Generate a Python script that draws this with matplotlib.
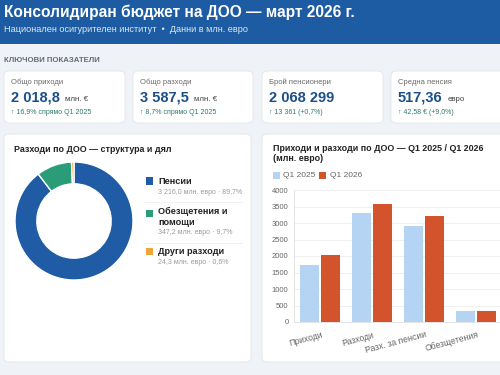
import matplotlib
matplotlib.use("Agg")
import matplotlib.pyplot as plt
from matplotlib.patches import FancyBboxPatch, Rectangle
import numpy as np

plt.rcParams['font.family'] = ['Liberation Sans', 'DejaVu Sans']

# ---- data ----
title = "Консолидиран бюджет на ДОО — март 2026 г."
subtitle = "Национален осигурителен институт  •  Данни в млн. евро"

kpi_labels = ["Общо приходи", "Общо разходи", "Брой пенсионери", "Средна пенсия"]
kpi_values = ["2 018,8", "3 587,5", "2 068 299", "517,36"]
kpi_units = ["млн. €", "млн. €", "", "евро"]
kpi_deltas = ["↑ 16,9% спрямо Q1 2025", "↑ 8,7% спрямо Q1 2025",
              "↑ 13 361 (+0,7%)", "↑ 42,58 € (+9,0%)"]

pie_labels = ["Пенсии", "Обезщетения и\nпомощи", "Други разходи"]
pie_values = [3216.0, 347.2, 24.3]
pie_notes = ["3 216,0 млн. евро · 89,7%", "347,2 млн. евро · 9,7%", "24,3 млн. евро · 0,6%"]
pie_colors = ["#1f5ca5", "#2a9d78", "#f0a53a"]

bar_cats = ["Приходи", "Разходи", "Разх. за пенсии", "Обезщетения"]
q1_2025 = [1727, 3300, 2910, 325]
q1_2026 = [2018.8, 3587.5, 3216.0, 347.2]
c2025 = "#b5d3f2"
c2026 = "#d3532c"

W, H = 500, 375
fig = plt.figure(figsize=(5, 3.75), dpi=100)
fig.patch.set_facecolor("#eff2f6")
renderer = fig.canvas.get_renderer()


def fx(x):
    return x / W


def fy(y):
    return 1 - y / H


def card(x0, y0, x1, y1):
    p = FancyBboxPatch((fx(x0), fy(y1)), fx(x1 - x0), (y1 - y0) / H,
                       boxstyle="round,pad=0,rounding_size=0.012",
                       transform=fig.transFigure, facecolor="white",
                       edgecolor="#e2e6eb", linewidth=0.6, zorder=0)
    fig.patches.append(p)


def txt(x, y, s, **kw):
    return fig.text(fx(x), fy(y), s, **kw)


def square(x, y, c):
    fig.patches.append(Rectangle((fx(x), fy(y + 7)), 7 / W, 7 / H,
                                 transform=fig.transFigure, facecolor=c,
                                 edgecolor="none", zorder=1))


# header
fig.patches.append(Rectangle((0, fy(44)), 1, 44 / H, transform=fig.transFigure,
                             facecolor="#1d5ca2", edgecolor="none", zorder=0))
txt(4, 12.5, title, color="white", fontsize=11.2, fontweight="bold", va="center")
txt(4, 29.5, subtitle, color="#dce8f5", fontsize=6.6, va="center")

txt(4, 60, "КЛЮЧОВИ ПОКАЗАТЕЛИ", color="#646b73", fontsize=5.6, fontweight="bold", va="center")

# KPI cards
card_x = [(4, 125), (133, 253), (262, 383), (391, 512)]
for i, (x0, x1) in enumerate(card_x):
    card(x0, 71, x1, 123)
    txt(x0 + 7, 82, kpi_labels[i], color="#6b6b6b", fontsize=5.5, va="center")
    v = txt(x0 + 7, 98, kpi_values[i], color="#1b4f8c", fontsize=10.5, fontweight="bold", va="center")
    if kpi_units[i]:
        bb = v.get_window_extent(renderer)
        txt(bb.x1 + 5, 99.5, kpi_units[i], color="#444444", fontsize=5.7, va="center")
    txt(x0 + 7, 112, kpi_deltas[i], color="#2e7a68", fontsize=5, va="center")

# bottom cards
card(4, 134, 251, 362)
card(262, 134, 512, 362)

# donut
txt(14, 149, "Разходи по ДОО — структура и дял", color="#222222", fontsize=6.4, fontweight="bold", va="center")
cx, cy, r = 74, 221, 59
ax_p = fig.add_axes([fx(cx - r), fy(cy + r), 2 * r / W, 2 * r / H])
ax_p.set_zorder(2)
ax_p.pie(pie_values, colors=pie_colors, startangle=90, counterclock=False, radius=1,
         wedgeprops=dict(width=0.37, edgecolor="white", linewidth=1.0))
ax_p.set_xlim(-1, 1)
ax_p.set_ylim(-1, 1)
ax_p.set_aspect("auto")
ax_p.axis("off")

leg_y = [181, 207, 251]
note_y = [192, 232, 262]
for i in range(3):
    square(146, leg_y[i] - 3.5 if i != 1 else 213 - 3.5, pie_colors[i])
    txt(158, leg_y[i], pie_labels[i], color="#222222", fontsize=6.6, fontweight="bold",
        va="top" if "\n" in pie_labels[i] else "center", linespacing=1.3)
    txt(158, note_y[i], pie_notes[i], color="#9a9a9a", fontsize=5, va="center")
for y in (202, 243):
    fig.add_artist(plt.Line2D([fx(145), fx(242)], [fy(y), fy(y)], color="#eeeeee", lw=0.6))

# bar chart
txt(273, 153.5, "Приходи и разходи по ДОО — Q1 2025 / Q1 2026\n(млн. евро)", color="#222222",
    fontsize=6.4, fontweight="bold", va="center", linespacing=1.25)
square(273, 172, c2025)
txt(283, 175.5, "Q1 2025", color="#666666", fontsize=6.0, va="center")
square(319, 172, c2026)
txt(330, 175.5, "Q1 2026", color="#666666", fontsize=6.0, va="center")

ax = fig.add_axes([fx(294), fy(322), (502 - 294) / W, (322 - 190) / H])
ax.set_zorder(2)
x = np.arange(len(bar_cats))
ax.bar(x - 0.2, q1_2025, width=0.36, color=c2025, zorder=3)
ax.bar(x + 0.2, q1_2026, width=0.36, color=c2026, zorder=3)
ax.set_xlim(-0.5, len(bar_cats) - 0.5)
ax.set_ylim(0, 4000)
ax.set_yticks(np.arange(0, 4001, 500))
ax.tick_params(axis="y", labelsize=5.5, labelcolor="#666666", length=0, pad=4)
ax.tick_params(axis="x", labelsize=6.2, labelcolor="#666666", length=0, pad=6)
ax.set_xticks(x + 0.02)
ax.set_xticklabels(bar_cats, rotation=15, ha="right", rotation_mode="anchor")
ax.grid(axis="y", color="#ececec", lw=0.6, zorder=0)
for s in ("top", "right"):
    ax.spines[s].set_visible(False)
ax.spines["left"].set_color("#e0e0e0")
ax.spines["bottom"].set_color("#e0e0e0")
ax.spines["left"].set_linewidth(0.6)
ax.spines["bottom"].set_linewidth(0.6)
ax.set_facecolor("white")

fig.savefig("out.png", dpi=100, facecolor=fig.get_facecolor())
